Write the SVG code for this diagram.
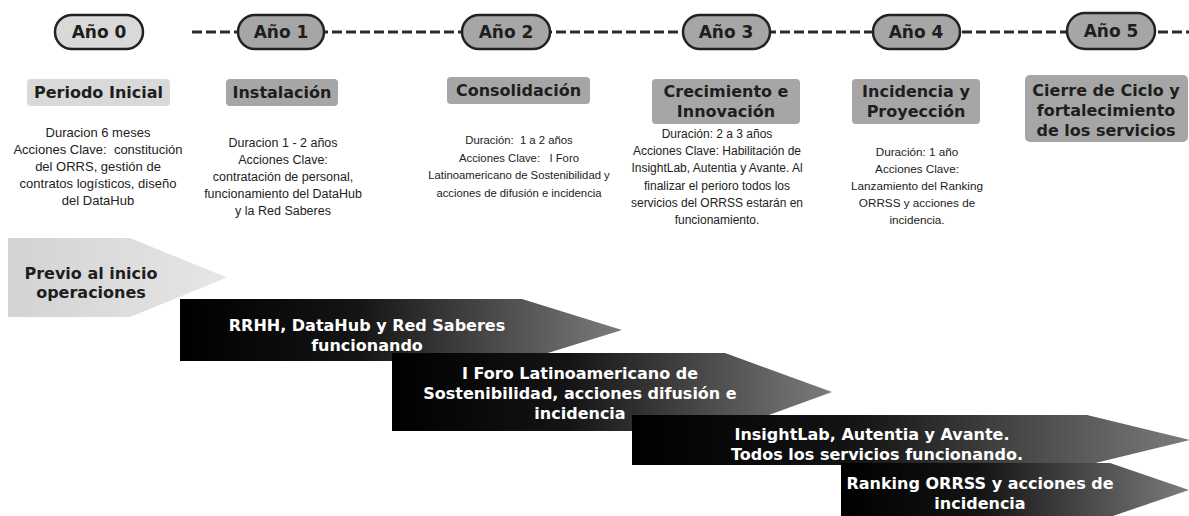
<svg xmlns="http://www.w3.org/2000/svg" width="1189" height="516" viewBox="0 0 1189 516">
<defs>
<linearGradient id="gDark" x1="0" y1="0" x2="1" y2="0">
<stop offset="0" stop-color="#000"/>
<stop offset="0.4" stop-color="#141414"/>
<stop offset="1" stop-color="#7c7c7c"/>
</linearGradient>
<linearGradient id="gLight" x1="0" y1="0" x2="1" y2="0">
<stop offset="0" stop-color="#d3d3d3"/>
<stop offset="1" stop-color="#e6e6e6"/>
</linearGradient>
<style>
.pill{stroke:#222;stroke-width:2.5}
.p0{fill:#d9d9d9}
.p1{fill:#a6a6a6}
.yr{font-family:"DejaVu Sans",sans-serif;font-weight:bold;font-size:17px;fill:#1e1e1e;text-anchor:middle}
.hb0{fill:#d9d9d9}
.hb1{fill:#a6a6a6}
.hd{font-family:"DejaVu Sans",sans-serif;font-weight:bold;font-size:16px;fill:#1e1e1e;text-anchor:middle}
.bd{font-family:"Liberation Sans",Arial,sans-serif;font-size:12px;fill:#222;text-anchor:middle;white-space:pre}
.c0{font-size:13px}
.c1{font-size:12.5px}
.c2{font-size:11.3px}
.c4{font-size:11.7px}
.at{font-family:"DejaVu Sans",sans-serif;font-weight:bold;font-size:16px;fill:#fff;text-anchor:middle}
.atk{font-family:"DejaVu Sans",sans-serif;font-weight:bold;font-size:16px;fill:#1e1e1e;text-anchor:middle}
.dash{stroke:#2a2a2a;stroke-width:3;stroke-dasharray:10 4;fill:none}
</style>
</defs>
<rect width="1189" height="516" fill="#fff"/>

<g id="connectors">
<line class="dash" x1="192" y1="32" x2="1189" y2="32"/>
</g>

<g id="year0"><rect class="pill p0" x="55" y="15" width="88" height="34" rx="17"/><text class="yr" x="99" y="38">Año 0</text></g>
<g id="year1"><rect class="pill p1" x="238" y="15" width="86" height="34" rx="17"/><text class="yr" x="281" y="38">Año 1</text></g>
<g id="year2"><rect class="pill p1" x="462" y="15" width="88" height="34" rx="17"/><text class="yr" x="506" y="38">Año 2</text></g>
<g id="year3"><rect class="pill p1" x="683" y="15" width="87" height="34" rx="17"/><text class="yr" x="726" y="38">Año 3</text></g>
<g id="year4"><rect class="pill p1" x="873" y="15" width="87" height="34" rx="17"/><text class="yr" x="916" y="38">Año 4</text></g>
<g id="year5"><rect class="pill p1" x="1067" y="13" width="88" height="36" rx="18"/><text class="yr" x="1111" y="37">Año 5</text></g>

<g id="phase0">
<rect class="hb0" x="27" y="79" width="143" height="27" rx="4"/>
<text class="hd" x="98.5" y="98">Periodo Inicial</text>
<text class="bd c0" x="98" y="137">Duracion 6 meses</text>
<text class="bd c0" x="98" y="154">Acciones Clave:  constitución</text>
<text class="bd c0" x="98" y="171">del ORRS, gestión de</text>
<text class="bd c0" x="98" y="188">contratos logísticos, diseño</text>
<text class="bd c0" x="98" y="205">del DataHub</text>
</g>
<g id="phase1">
<rect class="hb1" x="226" y="79" width="112" height="27" rx="4"/>
<text class="hd" x="282" y="98">Instalación</text>
<text class="bd c1" x="283" y="147">Duracion 1 - 2 años</text>
<text class="bd c1" x="283" y="164">Acciones Clave:</text>
<text class="bd c1" x="283" y="181">contratación de personal,</text>
<text class="bd c1" x="283" y="198">funcionamiento del DataHub</text>
<text class="bd c1" x="283" y="215">y la Red Saberes</text>
</g>
<g id="phase2">
<rect class="hb1" x="447" y="77" width="143" height="27" rx="4"/>
<text class="hd" x="518.5" y="96">Consolidación</text>
<text class="bd c2" x="519" y="144">Duración:  1 a 2 años</text>
<text class="bd c2" x="519" y="161.5">Acciones Clave:   I Foro</text>
<text class="bd c2" x="519" y="179">Latinoamericano de Sostenibilidad y</text>
<text class="bd c2" x="519" y="196.5">acciones de difusión e incidencia</text>
</g>
<g id="phase3">
<rect class="hb1" x="652" y="79" width="148" height="45" rx="4"/>
<text class="hd" x="726" y="97">Crecimiento e</text>
<text class="hd" x="726" y="117">Innovación</text>
<text class="bd" x="717" y="138">Duración: 2 a 3 años</text>
<text class="bd" x="717" y="155">Acciones Clave: Habilitación de</text>
<text class="bd" x="717" y="172">InsightLab, Autentia y Avante. Al</text>
<text class="bd" x="717" y="190">finalizar el perioro todos los</text>
<text class="bd" x="717" y="207">servicios del ORRSS estarán en</text>
<text class="bd" x="717" y="224">funcionamiento.</text>
</g>
<g id="phase4">
<rect class="hb1" x="852" y="79" width="128" height="45" rx="4"/>
<text class="hd" x="916" y="97">Incidencia y</text>
<text class="hd" x="916" y="117">Proyección</text>
<text class="bd c4" x="917" y="156">Duración: 1 año</text>
<text class="bd c4" x="917" y="173">Acciones Clave:</text>
<text class="bd c4" x="917" y="190">Lanzamiento del Ranking</text>
<text class="bd c4" x="917" y="207">ORRSS y acciones de</text>
<text class="bd c4" x="917" y="224">incidencia.</text>
</g>
<g id="phase5">
<rect class="hb1" x="1025" y="75" width="163" height="67" rx="5"/>
<text class="hd" x="1106" y="96">Cierre de Ciclo y</text>
<text class="hd" x="1106" y="116">fortalecimiento</text>
<text class="hd" x="1106" y="136">de los servicios</text>
</g>

<g id="arrow0">
<polygon points="8,238 130,238 227,277.5 130,317 8,317" fill="url(#gLight)"/>
<text class="atk" x="91" y="279">Previo al inicio</text>
<text class="atk" x="91" y="298">operaciones</text>
</g>
<g id="arrow1">
<polygon points="180,299 522,299 622,330 522,361 180,361" fill="url(#gDark)"/>
<text class="at" x="367" y="331">RRHH, DataHub y Red Saberes</text>
<text class="at" x="367" y="351">funcionando</text>
</g>
<g id="arrow2">
<polygon points="392,353 725,353 832,392 725,431 392,431" fill="url(#gDark)"/>
<text class="at" x="580" y="379">I Foro Latinoamericano de</text>
<text class="at" x="580" y="399">Sostenibilidad, acciones difusión e</text>
<text class="at" x="580" y="419">incidencia</text>
</g>
<g id="arrow3">
<polygon points="632,415 1087,415 1190,440 1087,465 632,465" fill="url(#gDark)"/>
<text class="at" x="872" y="440">InsightLab, Autentia y Avante.</text>
<text class="at" x="877" y="460">Todos los servicios funcionando.</text>
</g>
<g id="arrow4">
<polygon points="841,463 1110,463 1189,490 1110,517 841,517" fill="url(#gDark)"/>
<text class="at" x="980" y="489">Ranking ORRSS y acciones de</text>
<text class="at" x="980" y="509">incidencia</text>
</g>
</svg>
